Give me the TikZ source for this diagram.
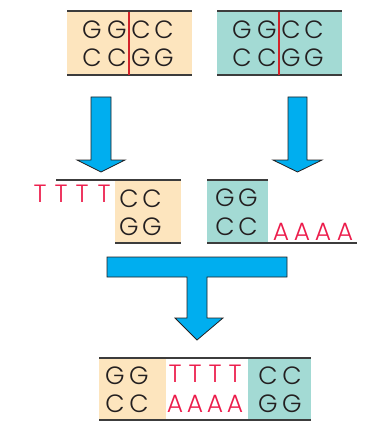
\documentclass[tikz,border=0pt]{standalone}
\usepackage{fontspec}
\newfontfamily\basefont{Poppins}[UprightFont=* Light]
\definecolor{orangefill}{HTML}{FDE5BE}
\definecolor{tealfill}{HTML}{A3DAD4}
\definecolor{basered}{HTML}{EC1C4B}
\definecolor{cutred}{HTML}{D2232A}
\definecolor{arrowblue}{HTML}{00AEEF}
\definecolor{strandgray}{HTML}{3C3C3C}
\definecolor{ink}{HTML}{231F20}
\tikzset{
  base/.style={inner sep=0pt, font=\basefont\fontsize{25}{25}\selectfont, text=ink},
  redbase/.style={base, text=basered},
  strand/.style={draw=strandgray, line width=2.6pt},
  cutline/.style={draw=cutred, line width=2.2pt},
  bigarrow/.style={fill=arrowblue, draw=ink, line width=0.8pt, line join=miter},
}
\begin{document}
\begin{tikzpicture}[x=1pt,y=-1pt]
\useasboundingbox (0,0) rectangle (365,422);
% ---------- top left fragment ----------
\fill[orangefill] (67,11) rectangle (192,75);
\draw[strand] (67,11) -- (192,11);
\draw[strand] (67,75) -- (192,75);
\draw[cutline] (129,12) -- (129,75);
\node[base] (a1) at (92,30) {G};
\node[base] (a2) at (117,30) {G};
\node[base] (a3) at (141,30) {C};
\node[base] (a4) at (164,30) {C};
\node[base] (a5) at (92,58) {C};
\node[base] (a6) at (117,58) {C};
\node[base] (a7) at (141,58) {G};
\node[base] (a8) at (164,58) {G};
% ---------- top right fragment ----------
\fill[tealfill] (217,11) rectangle (342,75);
\draw[strand] (217,11) -- (342,11);
\draw[strand] (217,75) -- (342,75);
\draw[cutline] (279,12) -- (279,75);
\node[base] (b1) at (242,30) {G};
\node[base] (b2) at (267,30) {G};
\node[base] (b3) at (291,30) {C};
\node[base] (b4) at (314,30) {C};
\node[base] (b5) at (242,58) {C};
\node[base] (b6) at (267,58) {C};
\node[base] (b7) at (291,58) {G};
\node[base] (b8) at (314,58) {G};
% ---------- down arrows ----------
\draw[bigarrow] (91,97) -- (111,97) -- (111,160) -- (125,160) -- (101,172) -- (77,160) -- (91,160) -- cycle;
\draw[bigarrow] (288,97) -- (307,97) -- (307,160) -- (322,160) -- (297.5,172) -- (273,160) -- (288,160) -- cycle;
% ---------- middle left ----------
\fill[orangefill] (115,180) rectangle (181,243);
\draw[strand] (56,180) -- (181,180);
\draw[strand] (115,243) -- (181,243);
\node[redbase] (t1) at (40,194) {T};
\node[redbase] (t2) at (61,194) {T};
\node[redbase] (t3) at (82,194) {T};
\node[redbase] (t4) at (104,194) {T};
\node[base] (c1) at (129,199) {C};
\node[base] (c2) at (152,199) {C};
\node[base] (c3) at (129,227) {G};
\node[base] (c4) at (152,227) {G};
% ---------- middle right ----------
\fill[tealfill] (207,180) rectangle (268,243);
\draw[strand] (207,180) -- (268,180);
\draw[strand] (207,243) -- (357,243);
\node[base] (d1) at (225,198) {G};
\node[base] (d2) at (248,198) {G};
\node[base] (d3) at (225,227) {C};
\node[base] (d4) at (248,227) {C};
\node[redbase] (e1) at (281,232) {A};
\node[redbase] (e2) at (302,232) {A};
\node[redbase] (e3) at (323,232) {A};
\node[redbase] (e4) at (345,232) {A};
% ---------- joining arrow ----------
\draw[bigarrow] (107,257) -- (287,257) -- (287,277) -- (207,277) -- (207,318) -- (223,318) -- (197,340) -- (175,318) -- (187,318) -- (187,277) -- (107,277) -- cycle;
% ---------- bottom product ----------
\fill[orangefill] (99,358) rectangle (166,420);
\fill[tealfill] (248,358) rectangle (311,420);
\draw[strand] (99,358) -- (311,358);
\draw[strand] (99,420) -- (311,420);
\node[base] (f1) at (115,376) {G};
\node[base] (f2) at (139,376) {G};
\node[base] (f3) at (115,404) {C};
\node[base] (f4) at (139,404) {C};
\node[redbase] (g1) at (175,374) {T};
\node[redbase] (g2) at (195,374) {T};
\node[redbase] (g3) at (215,374) {T};
\node[redbase] (g4) at (235,374) {T};
\node[redbase] (h1) at (175,404) {A};
\node[redbase] (h2) at (195,404) {A};
\node[redbase] (h3) at (215,404) {A};
\node[redbase] (h4) at (235,404) {A};
\node[base] (k1) at (268,376) {C};
\node[base] (k2) at (292,376) {C};
\node[base] (k3) at (268,404) {G};
\node[base] (k4) at (292,404) {G};
\end{tikzpicture}
\end{document}
